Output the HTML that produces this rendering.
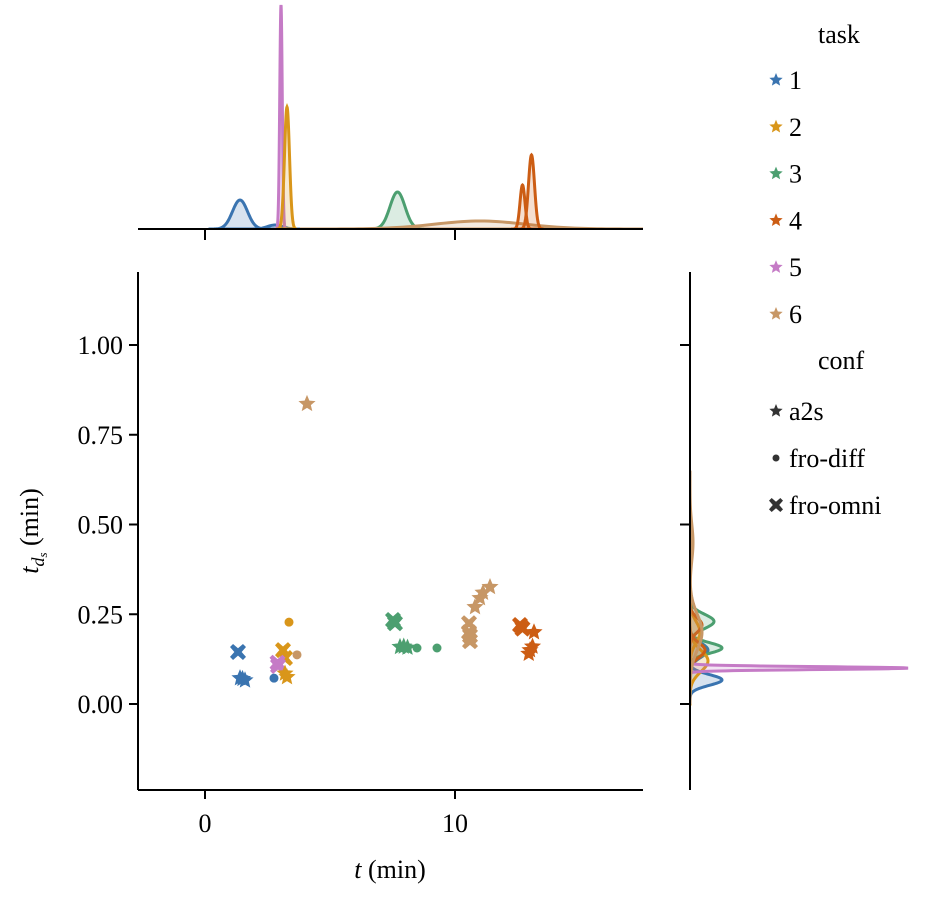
<!DOCTYPE html>
<html><head><meta charset="utf-8"><style>
body{margin:0;background:#fff}
svg{display:block;font-family:"Liberation Serif","DejaVu Serif",serif}
</style></head><body>
<svg id="c" width="931" height="899" viewBox="0 0 931 899">
<defs><clipPath id="ct"><rect x="138" y="0" width="505" height="230"/></clipPath>
<clipPath id="cr"><rect x="689" y="272" width="242" height="518"/></clipPath></defs>
</svg>
<script>
const colors=["#3a74b0","#d9961a","#4c9f70","#cc5d14","#c57bc6","#c79766"];
const taskNames=["1","2","3","4","5","6"];
// scatter data
const ptX=[1.32,1.4,1.6,1.5,2.76,3.36,3.12,3.2,3.68,2.92,2.9,3.28,3.2,7.52,7.6,7.8,7.95,8.1,8.48,9.28,10.56,10.6,10.56,10.6,10.8,11.12,11.4,11.0,4.08,12.6,12.7,13.16,13.0,12.95,13.1];
const ptY=[0.145,0.072,0.066,0.07,0.072,0.228,0.15,0.128,0.137,0.106,0.115,0.075,0.085,0.234,0.225,0.159,0.16,0.157,0.156,0.156,0.2,0.175,0.225,0.19,0.27,0.31,0.326,0.295,0.836,0.22,0.21,0.2,0.15,0.14,0.16];
const ptTask=[0,0,0,0,0,1,1,1,5,4,4,1,1,2,2,2,2,2,2,2,5,5,5,5,5,5,5,5,5,3,3,3,3,3,3];
const ptConf=["x","s","s","s","o","o","x","x","o","x","x","s","s","x","x","s","s","s","o","o","x","x","x","x","s","s","s","s","s","x","x","s","s","s","s"];
// marginal density components: task, center, sd, peak height (px)
const topTask=[0,0,4,1,2,5,3,3];
const topMu=[1.4,2.8,3.04,3.28,7.7,11.0,12.7,13.06];
const topSd=[0.3,0.3,0.05,0.1,0.3,1.8,0.1,0.12];
const topH=[29,4,224,122,37,8,44,74];
const rTask=[0,0,2,2,1,1,3,3,4,5,5];
const rMu=[0.067,0.15,0.156,0.23,0.12,0.2,0.15,0.22,0.10,0.2,0.45];
const rSd=[0.015,0.02,0.015,0.02,0.03,0.03,0.02,0.02,0.004,0.05,0.05];
const rH=[32,18,32,24,18,10,15,12,218,12,3];

const S=document.getElementById('c'),NS="http://www.w3.org/2000/svg";
function el(t,a,p){const e=document.createElementNS(NS,t);for(const k in a)e.setAttribute(k,a[k]);(p||S).appendChild(e);return e;}
const X=v=>205+v*25, Y=v=>704-v*359;
const L=138,R=643,T=272,B=790,FS=26;
// marginal top
const gTop=el('g',{'clip-path':'url(#ct)'});
for(let i=0;i<topMu.length;i++){let d="M"+X(topMu[i]-4*topSd[i])+",229";for(let k=0;k<=80;k++){const v=topMu[i]-4*topSd[i]+k*topSd[i]*0.1;d+=" L"+X(v).toFixed(2)+","+(229-topH[i]*Math.exp(-0.5*((v-topMu[i])/topSd[i])**2)).toFixed(2);}
const c=colors[topTask[i]];const p=el('path',{d:d+" Z",fill:c,'fill-opacity':0.2,stroke:c,'stroke-width':3},gTop);}
el('line',{x1:L,x2:R,y1:229,y2:229,stroke:'#000','stroke-width':2});
[0,10].forEach(t=>el('line',{x1:X(t),x2:X(t),y1:229,y2:240,stroke:'#000','stroke-width':2}));
// right marginal
const gR=el('g',{'clip-path':'url(#cr)'});
for(let i=0;i<rMu.length;i++){let d="M690,"+Y(rMu[i]-4*rSd[i]);for(let k=0;k<=80;k++){const v=rMu[i]-4*rSd[i]+k*rSd[i]*0.1;d+=" L"+(690+rH[i]*Math.exp(-0.5*((v-rMu[i])/rSd[i])**2)).toFixed(2)+","+Y(v).toFixed(2);}
const c=colors[rTask[i]];const p=el('path',{d:d+" Z",fill:c,'fill-opacity':0.2,stroke:c,'stroke-width':3},gR);}
el('line',{x1:690,x2:690,y1:T,y2:B,stroke:'#000','stroke-width':2});
[0,0.5,1].forEach(t=>el('line',{x1:680,x2:690,y1:Y(t),y2:Y(t),stroke:'#000','stroke-width':2}));
// main axes
el('line',{x1:L,x2:L,y1:T,y2:B,stroke:'#000','stroke-width':2});
el('line',{x1:L,x2:R,y1:B,y2:B,stroke:'#000','stroke-width':2});
[0,10].forEach(t=>{el('line',{x1:X(t),x2:X(t),y1:B,y2:B+9,stroke:'#000','stroke-width':2});const tx=el('text',{x:X(t),y:B+42,'text-anchor':'middle','font-size':FS});tx.textContent=t;});
[0,0.25,0.5,0.75,1].forEach(t=>{el('line',{x1:L-9,x2:L,y1:Y(t),y2:Y(t),stroke:'#000','stroke-width':2});const tx=el('text',{x:123,y:Y(t)+9,'text-anchor':'end','font-size':FS});tx.textContent=t.toFixed(2);});
const xl=el('text',{x:390,y:878,'text-anchor':'middle','font-size':FS});xl.innerHTML='<tspan font-style="italic">t</tspan> (min)';
const yl=el('text',{transform:'translate(38,531) rotate(-90)','text-anchor':'middle','font-size':FS});yl.innerHTML='<tspan font-style="italic">t</tspan><tspan font-style="italic" font-size="18" dy="6">d</tspan><tspan font-style="italic" font-size="13" dy="3">s</tspan><tspan dy="-9"> (min)</tspan>';
function star(cx,cy,r){let d="";for(let k=0;k<10;k++){const a=-Math.PI/2+k*Math.PI/5,rr=k%2?r*0.45:r;d+=(k?"L":"M")+(cx+rr*Math.cos(a)).toFixed(2)+","+(cy+rr*Math.sin(a)).toFixed(2);}return d+"Z";}
function cross(cx,cy,r){const w=r*0.38;return `M${cx-r+w},${cy-r}L${cx},${cy-w*1.2}L${cx+r-w},${cy-r}L${cx+r},${cy-r+w}L${cx+w*1.2},${cy}L${cx+r},${cy+r-w}L${cx+r-w},${cy+r}L${cx},${cy+w*1.2}L${cx-r+w},${cy+r}L${cx-r},${cy+r-w}L${cx-w*1.2},${cy}L${cx-r},${cy-r+w}Z`;}
function mark(m,cx,cy,c,g){if(m==="o")return el('circle',{cx,cy,r:4.5,fill:c},g);if(m==="s")return el('path',{d:star(cx,cy,9),fill:c},g);return el('path',{d:cross(cx,cy,8),fill:c},g);}
const gP=el('g',{});
for(let i=0;i<ptX.length;i++){const p=mark(ptConf[i],X(ptX[i]),Y(ptY[i]),colors[ptTask[i]],gP);}
// legend
const gL=el('g',{});
let t=el('text',{x:818,y:43,'font-size':FS},gL);t.textContent='task';
taskNames.forEach((n,i)=>{const y=80+i*46.8;const g=el('g',{},gL);el('path',{d:star(776,y,7),fill:colors[i]},g);const tt=el('text',{x:789,y:y+9,'font-size':FS},g);tt.textContent=n;});
t=el('text',{x:818,y:369,'font-size':FS},gL);t.textContent='conf';
[["s","a2s"],["o","fro-diff"],["x","fro-omni"]].forEach((m,i)=>{const y=411+i*47;const g=el('g',{},gL);if(m[0]==="o")el('circle',{cx:776,cy:y,r:3.5,fill:'#333'},g);else if(m[0]==="s")el('path',{d:star(776,y,7),fill:'#333'},g);else el('path',{d:cross(776,y,7),fill:'#333'},g);const tt=el('text',{x:789,y:y+9,'font-size':FS},g);tt.textContent=m[1];});
</script>
</body></html>
